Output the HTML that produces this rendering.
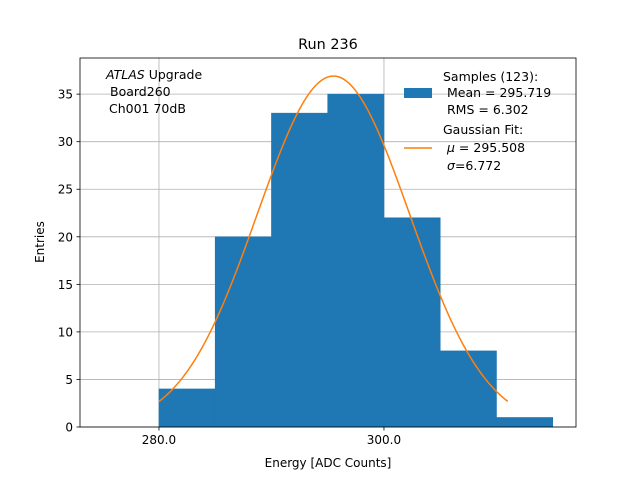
<!DOCTYPE html>
<html><head><meta charset="utf-8"><style>
body{margin:0;background:#fff;}
svg{font-family:"DejaVu Sans","Liberation Sans",sans-serif;}
</style></head><body>
<svg id="chart" width="640" height="480" viewBox="0 0 640 480">
<rect x="0" y="0" width="640" height="480" fill="#fff"/>
<g id="grid"></g><g id="bars"></g><g id="curve"></g><g id="axes"></g>
<text x="328" y="49" font-size="14.4" text-anchor="middle">Run 236</text>
<text x="328" y="467" font-size="12" text-anchor="middle">Energy [ADC Counts]</text>
<text x="44" y="242" font-size="12" text-anchor="middle" transform="rotate(-90 44 242)">Entries</text>
<g font-size="12.5">
<text x="106" y="79"><tspan font-style="italic">ATLAS</tspan> Upgrade</text>
<text x="110" y="96">Board260</text>
<text x="109" y="113">Ch001 70dB</text>
</g>
<g font-size="12.5">
<rect x="404" y="88" width="28" height="10" fill="#1f77b4"/>
<text x="443" y="81">Samples (123):</text>
<text x="447" y="97">Mean = 295.719</text>
<text x="447" y="114">RMS = 6.302</text>
<line x1="404" y1="148" x2="432" y2="148" stroke="#ff7f0e" stroke-width="1.5"/>
<text x="443" y="134">Gaussian Fit:</text>
<text x="447" y="152"><tspan font-style="italic">μ</tspan> = 295.508</text>
<text x="447" y="170"><tspan font-style="italic">σ</tspan>=6.772</text>
</g>
</svg>
<script>
const binEdges=[280,285,290,295,300,305,310,315];
const counts=[4,20,33,35,22,8,1];
const xTicks=[280,300];
const xTickLabels=["280.0","300.0"];
const yTicks=[0,5,10,15,20,25,30,35];
const fitMu=[295.508];
const fitSigma=[6.772];
const fitAmp=[36.9];
const fitRange=[280,311];
const L=80,R=576,T=58,B=427;
const xMin=272.98,xMax=317.07,yMin=0,yMax=38.8;
const sx=v=>L+(v-xMin)/(xMax-xMin)*(R-L);
const sy=v=>B-(v-yMin)/(yMax-yMin)*(B-T);
const NS="http://www.w3.org/2000/svg";
function mk(t,a,p){const e=document.createElementNS(NS,t);for(const k in a)e.setAttribute(k,a[k]);p.appendChild(e);return e;}
const grid=document.getElementById('grid'),bars=document.getElementById('bars'),curve=document.getElementById('curve'),axes=document.getElementById('axes');
xTicks.forEach((v,i)=>{
 const g=mk('line',{x1:sx(v),x2:sx(v),y1:T,y2:B,stroke:'#b0b0b0','stroke-width':0.8},grid);
 
 
 const t=mk('line',{x1:sx(v),x2:sx(v),y1:B,y2:B+3.5,stroke:'#000','stroke-width':0.8},axes);
 
 
 const l=mk('text',{x:sx(v),y:B+17,'font-size':12,'text-anchor':'middle'},axes);
 l.textContent=xTickLabels[i];
 
 
});
yTicks.forEach(v=>{
 const g=mk('line',{x1:L,x2:R,y1:sy(v),y2:sy(v),stroke:'#b0b0b0','stroke-width':0.8},grid);
 
 
 const t=mk('line',{x1:L-3.5,x2:L,y1:sy(v),y2:sy(v),stroke:'#000','stroke-width':0.8},axes);
 
 
 const l=mk('text',{x:L-7,y:sy(v)+4.5,'font-size':12,'text-anchor':'end'},axes);
 l.textContent=v;
 
 
});
counts.forEach((c,i)=>{
 const x0=sx(binEdges[i]),x1=sx(binEdges[i+1]);
 const r=mk('rect',{x:x0,y:sy(c),width:x1-x0,height:sy(0)-sy(c),fill:'#1f77b4',stroke:'#1f77b4','stroke-width':0.6},bars);
 
 
});
let d='';
for(let i=0;i<=200;i++){const x=fitRange[0]+(fitRange[1]-fitRange[0])*i/200;
 const y=fitAmp[0]*Math.exp(-0.5*((x-fitMu[0])/fitSigma[0])**2);
 d+=(i?'L':'M')+sx(x).toFixed(2)+' '+sy(y).toFixed(2);}
const p=mk('path',{d:d,fill:'none',stroke:'#ff7f0e','stroke-width':1.5},curve);


const f=mk('rect',{x:L,y:T,width:R-L,height:B-T,fill:'none',stroke:'#000','stroke-width':0.8},axes);


</script>
</body></html>
